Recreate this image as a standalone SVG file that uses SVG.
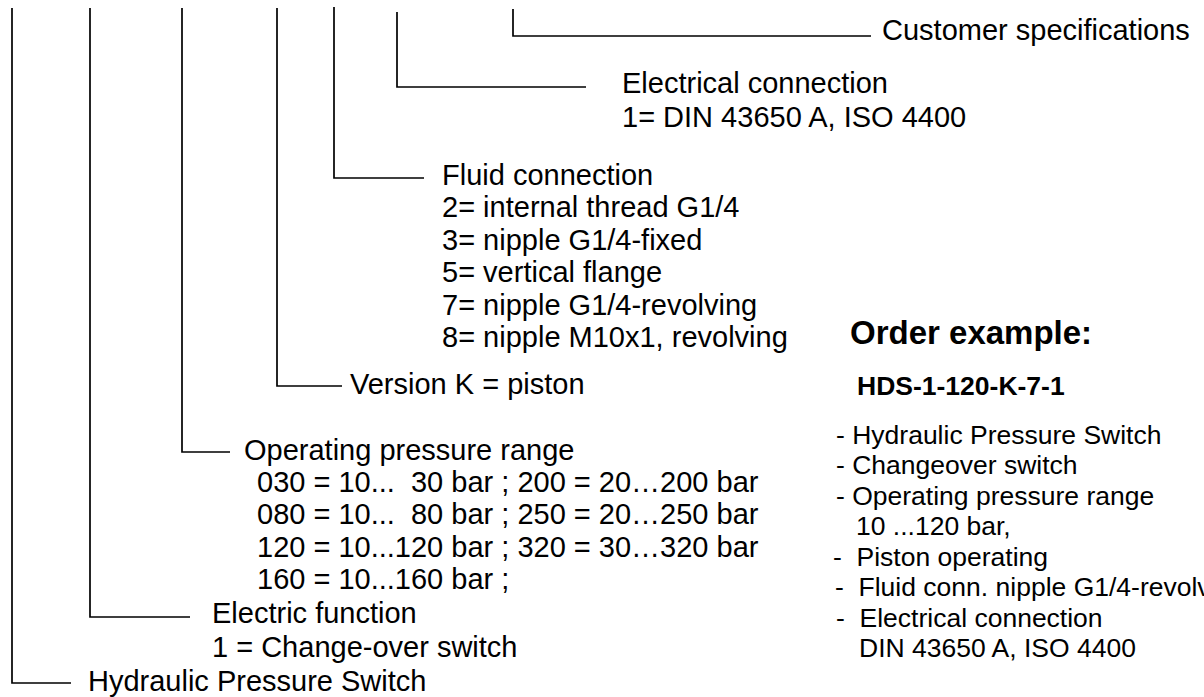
<svg xmlns="http://www.w3.org/2000/svg" width="1204" height="697" viewBox="0 0 1204 697">
<style>
.t{font-family:"Liberation Sans",Arial,sans-serif;font-size:29px;fill:#000}
.s{font-family:"Liberation Sans",Arial,sans-serif;font-size:26.5px;fill:#000}
.b{font-family:"Liberation Sans",Arial,sans-serif;font-weight:bold;fill:#000}
.c{fill:none;stroke:#000;stroke-width:1.7}
</style>
<rect width="1204" height="697" fill="#fff"/>
<g id="connectors">
<polyline class="c" points="513,9 513,36 871,36"/>
<polyline class="c" points="397,12 397,87 586,87"/>
<polyline class="c" points="334,7 334,178 424,178"/>
<polyline class="c" points="277,8 277,386 342,386"/>
<polyline class="c" points="182,8 182,452 230,452"/>
<polyline class="c" points="90,8 90,617 190,617"/>
<polyline class="c" points="12,8 12,683 71,683"/>
</g>
<g id="customer"><text class="t" x="882" y="40">Customer specifications</text></g>
<g id="electrical">
<text class="t" x="622" y="93">Electrical connection</text>
<text class="t" x="622" y="127">1= DIN 43650 A, ISO 4400</text>
</g>
<g id="fluid">
<text class="t" x="442" y="185">Fluid connection</text>
<text class="t" x="442" y="217">2= internal thread G1/4</text>
<text class="t" x="442" y="250">3= nipple G1/4-fixed</text>
<text class="t" x="442" y="282">5= vertical flange</text>
<text class="t" x="442" y="315">7= nipple G1/4-revolving</text>
<text class="t" x="442" y="347">8= nipple M10x1, revolving</text>
</g>
<g id="version"><text class="t" x="350" y="394">Version K = piston</text></g>
<g id="pressure">
<text class="t" x="244" y="460">Operating pressure range</text>
<text class="t" x="257" y="492" xml:space="preserve">030 = 10...  30 bar ; 200 = 20…200 bar</text>
<text class="t" x="257" y="524" xml:space="preserve">080 = 10...  80 bar ; 250 = 20…250 bar</text>
<text class="t" x="257" y="557">120 = 10...120 bar ; 320 = 30…320 bar</text>
<text class="t" x="257" y="589">160 = 10...160 bar ;</text>
</g>
<g id="function">
<text class="t" x="212" y="623">Electric function</text>
<text class="t" x="212" y="657">1 = Change-over switch</text>
</g>
<g id="hydraulic"><text class="t" x="88" y="691">Hydraulic Pressure Switch</text></g>
<g id="order">
<text class="b" x="850" y="344" font-size="33">Order example:</text>
<text class="b" x="857" y="395" font-size="26.5">HDS-1-120-K-7-1</text>
<text class="s" x="836" y="444">- Hydraulic Pressure Switch</text>
<text class="s" x="836" y="474">- Changeover switch</text>
<text class="s" x="836" y="505">- Operating pressure range</text>
<text class="s" x="856" y="535">10 ...120 bar,</text>
<text class="s" x="833" y="566" xml:space="preserve">-  Piston operating</text>
<text class="s" x="835" y="596" xml:space="preserve">-  Fluid conn. nipple G1/4-revolving</text>
<text class="s" x="836" y="627" xml:space="preserve">-  Electrical connection</text>
<text class="s" x="859" y="657">DIN 43650 A, ISO 4400</text>
</g>
</svg>
